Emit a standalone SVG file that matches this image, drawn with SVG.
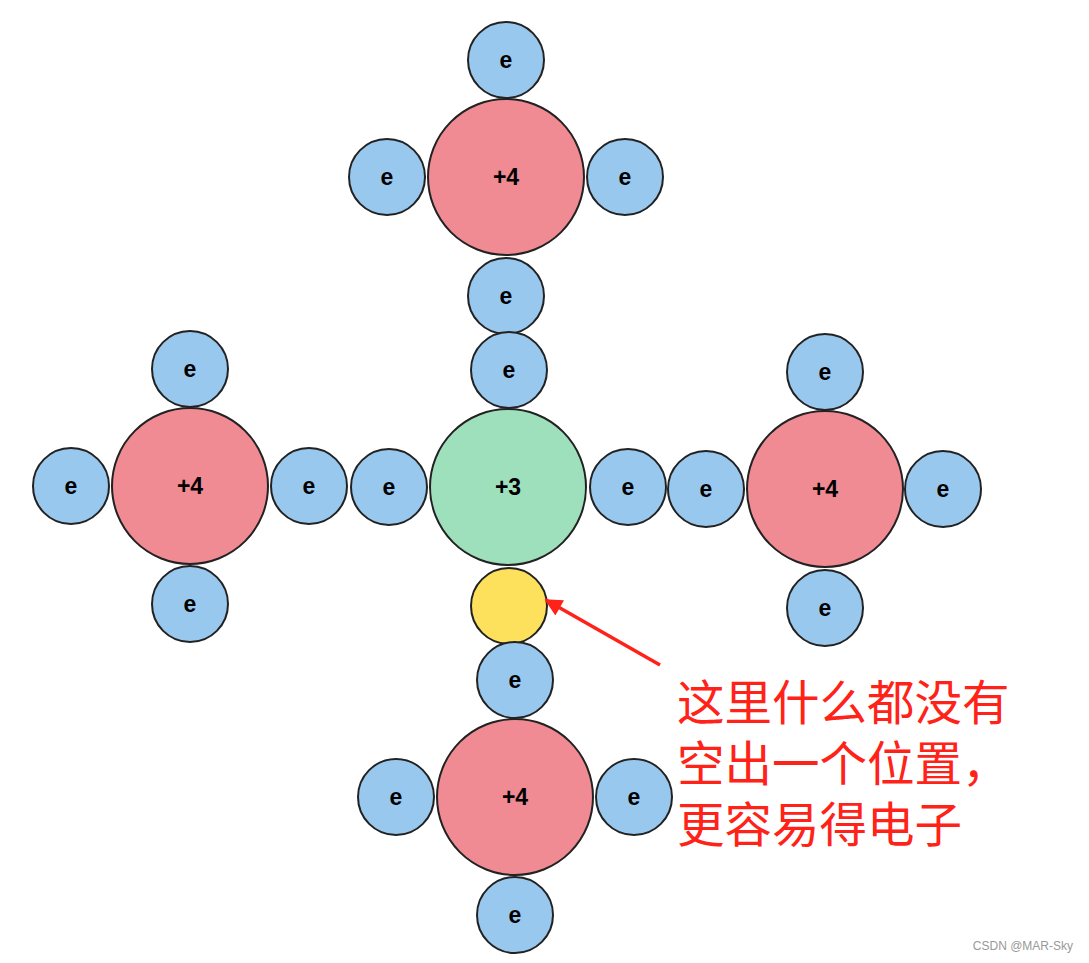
<svg xmlns="http://www.w3.org/2000/svg" width="1089" height="963" viewBox="0 0 1089 963">
<style>
.e{fill:#99c8ee;stroke:#222;stroke-width:2}
.n{fill:#f08a93;stroke:#222;stroke-width:2}
.g{fill:#9ee0bb;stroke:#222;stroke-width:2}
.y{fill:#fde05c;stroke:#222;stroke-width:2}
.t{font-family:"Liberation Sans",Arial,sans-serif;font-weight:bold;font-size:23px;text-anchor:middle;dominant-baseline:central;fill:#000}
.cn{font-family:"Liberation Sans","Noto Sans CJK SC",sans-serif;font-size:47.5px;fill:#ff2218}
</style>
<defs>
<marker id="ah" viewBox="0 0 10 10" refX="9" refY="5" markerWidth="7" markerHeight="5" orient="auto" markerUnits="strokeWidth">
<path d="M0,0 L10,5 L0,10 z" fill="#ff2218"/>
</marker>
</defs>
<rect width="1089" height="963" fill="#fff"/>
<g id="top">
<circle class="n" cx="506" cy="177" r="78"/><text class="t" x="506" y="177">+4</text>
<circle class="e" cx="506" cy="60" r="38"/><text class="t" x="506" y="60">e</text>
<circle class="e" cx="387" cy="177" r="38"/><text class="t" x="387" y="177">e</text>
<circle class="e" cx="625" cy="177" r="38"/><text class="t" x="625" y="177">e</text>
<circle class="e" cx="506" cy="296" r="38"/><text class="t" x="506" y="296">e</text>
</g>
<g id="center">
<circle class="g" cx="508" cy="487" r="78"/><text class="t" x="508" y="487">+3</text>
<circle class="e" cx="509" cy="370" r="38"/><text class="t" x="509" y="370">e</text>
<circle class="e" cx="389" cy="487" r="38"/><text class="t" x="389" y="487">e</text>
<circle class="e" cx="628" cy="487" r="38"/><text class="t" x="628" y="487">e</text>
<circle class="y" cx="509" cy="606" r="38"/>
</g>
<g id="left">
<circle class="n" cx="190" cy="486" r="78"/><text class="t" x="190" y="486">+4</text>
<circle class="e" cx="190" cy="369" r="38"/><text class="t" x="190" y="369">e</text>
<circle class="e" cx="71" cy="486" r="38"/><text class="t" x="71" y="486">e</text>
<circle class="e" cx="309" cy="486" r="38"/><text class="t" x="309" y="486">e</text>
<circle class="e" cx="190" cy="604" r="38"/><text class="t" x="190" y="604">e</text>
</g>
<g id="right">
<circle class="n" cx="825" cy="489" r="78"/><text class="t" x="825" y="489">+4</text>
<circle class="e" cx="825" cy="372" r="38"/><text class="t" x="825" y="372">e</text>
<circle class="e" cx="706" cy="489" r="38"/><text class="t" x="706" y="489">e</text>
<circle class="e" cx="943" cy="489" r="38"/><text class="t" x="943" y="489">e</text>
<circle class="e" cx="825" cy="608" r="38"/><text class="t" x="825" y="608">e</text>
</g>
<g id="bottom">
<circle class="n" cx="515" cy="797" r="78"/><text class="t" x="515" y="797">+4</text>
<circle class="e" cx="515" cy="680" r="38"/><text class="t" x="515" y="680">e</text>
<circle class="e" cx="396" cy="797" r="38"/><text class="t" x="396" y="797">e</text>
<circle class="e" cx="634" cy="797" r="38"/><text class="t" x="634" y="797">e</text>
<circle class="e" cx="515" cy="915" r="38"/><text class="t" x="515" y="915">e</text>
</g>
<g id="connectors">
<line x1="660" y1="665" x2="546" y2="600" stroke="#ff2218" stroke-width="3.5" marker-end="url(#ah)"/>
</g>
<g id="note">
<text class="cn" x="677" y="720">这里什么都没有</text>
<text class="cn" x="677" y="781">空出一个位置，</text>
<text class="cn" x="677" y="842">更容易得电子</text>
</g>
<text x="1073" y="950" font-family="'Liberation Sans',Arial,sans-serif" font-size="12" fill="#999" text-anchor="end">CSDN @MAR-Sky</text>
</svg>
